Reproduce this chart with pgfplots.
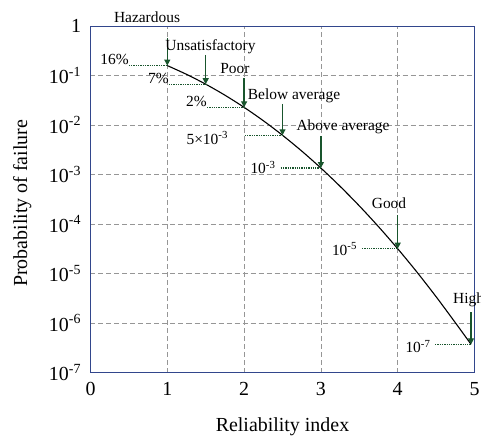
\documentclass[border=0pt]{standalone}
\usepackage{pgfplots}
\pgfplotsset{compat=1.18}
\usepackage{fontspec}
\setmainfont{Liberation Serif}
\usetikzlibrary{arrows.meta}
\definecolor{framecol}{RGB}{50,70,140}
\definecolor{arrgreen}{RGB}{25,85,45}
\definecolor{gridcol}{RGB}{150,150,150}
\tikzset{ann/.style={font=\fontsize{15.5}{18}\selectfont, inner sep=0pt}}
\begin{document}
\begin{tikzpicture}
\begin{axis}[
  scale only axis,
  width=384bp, height=346.5bp,
  xmin=0, xmax=5, ymin=1e-7, ymax=1,
  ymode=log,
  clip=false,
  axis line style={framecol, line width=1bp},
  xtick={0,1,2,3,4,5},
  xticklabels={0,1,2,3,4,5},
  ytick={1e-7,1e-6,1e-5,1e-4,1e-3,1e-2,1e-1,1},
  yticklabels={10\textsuperscript{-7},10\textsuperscript{-6},10\textsuperscript{-5},10\textsuperscript{-4},10\textsuperscript{-3},10\textsuperscript{-2},10\textsuperscript{-1},1},
  major tick length=0pt,
  minor tick num=0,
  log basis y=10,
  grid=major,
  major grid style={gridcol, dashed, dash pattern=on 5bp off 3bp, line width=0.8bp},
  tick label style={font=\fontsize{20}{24}\selectfont},
  /pgf/number format/assume math mode=true,
  xticklabel style={yshift=-6bp},
  yticklabel style={xshift=-6bp},
  xlabel={Reliability index},
  ylabel={Probability of failure},
  label style={font=\fontsize{20}{24}\selectfont},
  xlabel style={at={(axis description cs:0.5,0)}, anchor=center, yshift=-54bp},
  ylabel style={at={(axis description cs:-0.178,0.4885)}, anchor=center},
]
% curve
\addplot[black, line width=1.1bp, smooth] coordinates {
(1.00,1.587e-1) (1.25,1.056e-1) (1.50,6.681e-2) (1.75,4.006e-2) (2.00,2.275e-2)
(2.25,1.222e-2) (2.50,6.210e-3) (2.75,2.980e-3) (3.00,1.350e-3) (3.25,5.77e-4)
(3.50,2.326e-4) (3.75,8.84e-5) (4.00,3.167e-5) (4.25,1.07e-5) (4.50,3.398e-6)
(4.75,1.017e-6) (4.955,3.71e-7)};
% horizontal dotted leaders
\addplot[arrgreen, line width=1.3bp, densely dotted] coordinates {(0.50,1.587e-1) (1,1.587e-1)};
\addplot[arrgreen, line width=1.3bp, densely dotted] coordinates {(1.02,6.681e-2) (1.5,6.681e-2)};
\addplot[arrgreen, line width=1.3bp, densely dotted] coordinates {(1.517,2.275e-2) (2,2.275e-2)};
\addplot[arrgreen, line width=1.3bp, densely dotted] coordinates {(2.01,6.21e-3) (2.5,6.21e-3)};
\addplot[arrgreen, line width=1.3bp, densely dotted] coordinates {(2.477,1.35e-3) (3,1.35e-3)};
\addplot[arrgreen, line width=1.3bp, densely dotted] coordinates {(3.535,3.167e-5) (4,3.167e-5)};
\addplot[arrgreen, line width=1.3bp, densely dotted] coordinates {(4.486,3.71e-7) (4.955,3.71e-7)};
% vertical arrows
\addplot[arrgreen, line width=1.2bp, -{Triangle[width=6bp,length=6bp]}] coordinates {(1,0.573) (1,1.587e-1)};
\addplot[arrgreen, line width=1.2bp, -{Triangle[width=6bp,length=6bp]}] coordinates {(1.5,0.26) (1.5,6.681e-2)};
\addplot[arrgreen, line width=1.2bp, -{Triangle[width=6bp,length=6bp]}] coordinates {(2,0.0877) (2,2.275e-2)};
\addplot[arrgreen, line width=1.2bp, -{Triangle[width=6bp,length=6bp]}] coordinates {(2.5,0.0266) (2.5,6.21e-3)};
\addplot[arrgreen, line width=1.2bp, -{Triangle[width=6bp,length=6bp]}] coordinates {(3,0.006) (3,1.35e-3)};
\addplot[arrgreen, line width=1.2bp, -{Triangle[width=6bp,length=6bp]}] coordinates {(4,1.5e-4) (4,3.167e-5)};
\addplot[arrgreen, line width=1.2bp, -{Triangle[width=6bp,length=6bp]}] coordinates {(4.955,1.66e-6) (4.955,3.71e-7)};
% category labels
\node[ann, anchor=base] at (axis cs:0.736,1.166) {Hazardous};
\node[ann, anchor=base] at (axis cs:1.5625,0.317) {Unsatisfactory};
\node[ann, anchor=base] at (axis cs:1.88,0.1107) {Poor};
\node[ann, anchor=base] at (axis cs:2.65,0.033) {Below average};
\node[ann, anchor=base] at (axis cs:3.288,7.57e-3) {Above average};
\node[ann, anchor=base] at (axis cs:3.887,2.07e-4) {Good};
\node[ann, anchor=base west] at (axis cs:4.72,2.5e-6) {High};
% value labels
\node[ann, anchor=base east, yshift=1bp] at (axis cs:0.50,1.587e-1) {16\%};
\node[ann, anchor=base east, yshift=1bp] at (axis cs:1.02,6.681e-2) {7\%};
\node[ann, anchor=base east, yshift=1bp] at (axis cs:1.517,2.275e-2) {2\%};
\node[ann, anchor=base] at (axis cs:1.52,4.1e-3) {5×10\textsuperscript{-3}};
\node[ann, anchor=base] at (axis cs:2.246,1.06e-3) {10\textsuperscript{-3}};
\node[ann, anchor=base] at (axis cs:3.307,2.36e-5) {10\textsuperscript{-5}};
\node[ann, anchor=base] at (axis cs:4.264,2.56e-7) {10\textsuperscript{-7}};
\end{axis}
\pgfresetboundingbox
\path (current axis.south west) ++(-90.5bp,-64.5bp) rectangle ++(481bp,437bp);
\end{tikzpicture}
\end{document}
